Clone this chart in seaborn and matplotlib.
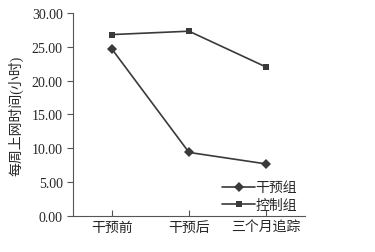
import matplotlib
matplotlib.use('Agg')
import matplotlib.pyplot as plt
import seaborn as sns
import pandas as pd

stages = ['干预前', '干预后', '三个月追踪']
intervention = [24.7, 9.4, 7.7]
control = [26.8, 27.3, 22.0]
groups = ['干预组', '控制组']

df = pd.DataFrame({
    'stage': stages * 2,
    'hours': intervention + control,
    'group': [groups[0]] * 3 + [groups[1]] * 3,
})

sns.set_style('ticks')
plt.rcParams['font.family'] = ['Liberation Serif', 'Noto Sans CJK SC']
plt.rcParams['font.size'] = 10

fig = plt.figure(figsize=(3.75, 2.53), dpi=100)
ax = fig.add_axes([0.195, 0.142, 0.618, 0.803])

sns.lineplot(data=df, x='stage', y='hours', hue='group', style='group',
             palette=['#3a3a3a', '#3a3a3a'], markers={'干预组': 'D', '控制组': 's'},
             dashes=False, markersize=5, linewidth=1.2, sort=False, ax=ax,
             markeredgewidth=0)

ax.set_xlim(-0.5, 2.5)
ax.set_ylim(0, 30)
ax.set_yticks([0, 5, 10, 15, 20, 25, 30])
ax.set_yticklabels(['%.2f' % v for v in [0, 5, 10, 15, 20, 25, 30]])
ax.set_xlabel('')
ax.set_ylabel('每周上网时间(小时)', fontsize=10, labelpad=6)
ax.tick_params(axis='x', direction='in', length=4, color='#555555', labelsize=10)
ax.tick_params(axis='y', direction='out', length=4, color='#555555', labelsize=10)
for s in ['top', 'right']:
    ax.spines[s].set_visible(False)
for s in ['left', 'bottom']:
    ax.spines[s].set_color('#555555')

leg = ax.legend(loc='lower right', bbox_to_anchor=(1.02, -0.04), frameon=False,
                handlelength=2.4, handletextpad=0.0, labelspacing=0.3, fontsize=10)

fig.savefig('out.png', dpi=100)
